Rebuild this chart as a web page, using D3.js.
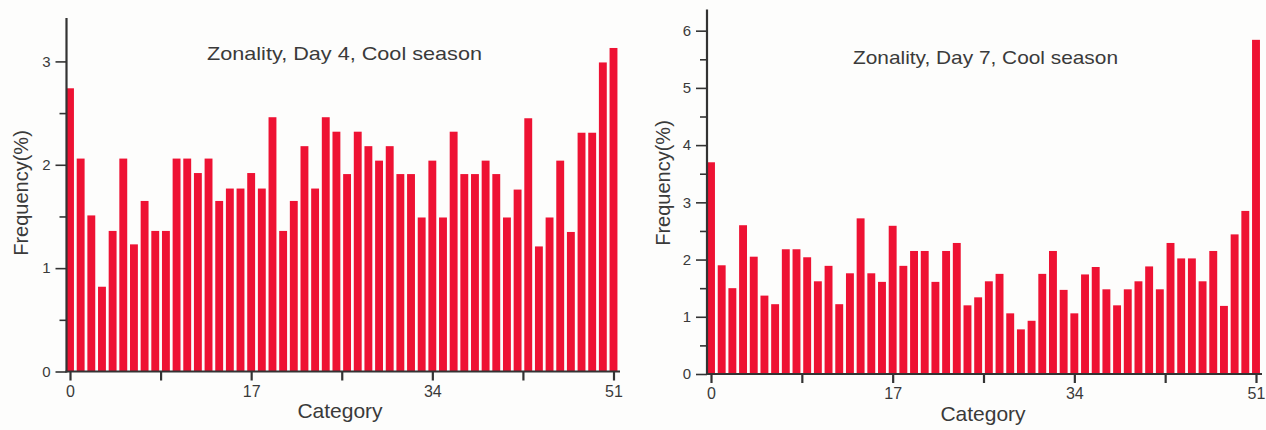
<!DOCTYPE html>
<html>
<head>
<meta charset="utf-8">
<script src="https://cdn.jsdelivr.net/npm/d3@7"></script>
<style>
  html, body { margin: 0; padding: 0; background: #fdfdfc; }
  svg { display: block; }
  text { font-family: "Liberation Sans", Arial, Helvetica, sans-serif; fill: #3a3a3a; }
</style>
</head>
<body>
<svg id="chart" width="1266" height="430"></svg>
<script>
// Category indices 0..51
const categories = d3.range(0, 52);

// Frequency (%) per category, Day 4
const day4Values = [
  2.74, 2.06, 1.51, 0.82, 1.36, 2.06, 1.23, 1.65, 1.36, 1.36,
  2.06, 2.06, 1.92, 2.06, 1.65, 1.77, 1.77, 1.92, 1.77, 2.46,
  1.36, 1.65, 2.18, 1.77, 2.46, 2.32, 1.91, 2.32, 2.18, 2.04,
  2.18, 1.91, 1.91, 1.49, 2.04, 1.49, 2.32, 1.91, 1.91, 2.04,
  1.91, 1.49, 1.76, 2.45, 1.21, 1.49, 2.04, 1.35, 2.31, 2.31,
  2.99, 3.13
];

// Frequency (%) per category, Day 7
const day7Values = [
  3.70, 1.90, 1.50, 2.60, 2.05, 1.37, 1.22, 2.18, 2.18, 2.04,
  1.62, 1.89, 1.22, 1.76, 2.72, 1.76, 1.61, 2.59, 1.89, 2.15,
  2.15, 1.61, 2.15, 2.29, 1.20, 1.34, 1.62, 1.75, 1.06, 0.78,
  0.93, 1.75, 2.15, 1.47, 1.06, 1.74, 1.87, 1.48, 1.20, 1.48,
  1.62, 1.88, 1.48, 2.29, 2.02, 2.02, 1.62, 2.15, 1.19, 2.44,
  2.85, 5.84
];

const xTickValues = [0, 8.5, 17, 25.5, 34, 42.5, 51];
const xTickLabels = ["0", "", "17", "", "34", "", "51"];
const day4YTicks = [0, 1, 2, 3];
const day7YTicks = [0, 1, 2, 3, 4, 5, 6];

const panels = [
  {
    title: "Zonality, Day 4, Cool season",
    values: day4Values, yMax: 3.42, yTicks: day4YTicks,
    left: 66.5, x0: 70, x51: 613.5, xEnd: 620, top: 18, base: 371.5,
    titleX: 207, titleY: 60, titleW: 275,
    yLabelX: 28, yLabelY: 193, catX: 340, catY: 418
  },
  {
    title: "Zonality, Day 7, Cool season",
    values: day7Values, yMax: 6.37, yTicks: day7YTicks,
    left: 707, x0: 711, x51: 1256, xEnd: 1262, top: 9.5, base: 374,
    titleX: 853, titleY: 64, titleW: 265,
    yLabelX: 670, yLabelY: 183, catX: 983, catY: 421
  }
];

const svg = d3.select("#chart");
const barColor = "#ee1233";
const axisColor = "#333";

panels.forEach(p => {
  const g = svg.append("g");
  const step = (p.x51 - p.x0) / 51;

  const x = d3.scaleLinear().domain([0, 51]).range([p.x0, p.x51]);
  const xBand = d3.scaleBand()
    .domain(categories)
    .range([p.x0 - step / 2, p.x51 + step / 2])
    .paddingInner(0.26)
    .paddingOuter(0.13);
  const y = d3.scaleLinear().domain([0, p.yMax]).range([p.base, p.top]);

  // bars
  g.append("g").selectAll("rect")
    .data(p.values)
    .join("rect")
    .attr("x", (d, i) => xBand(categories[i]))
    .attr("width", xBand.bandwidth())
    .attr("y", d => y(d))
    .attr("height", d => y(0) - y(d))
    .attr("fill", barColor);

  // y axis: major ticks with labels, minor half-unit ticks
  const minor = d3.range(0.5, p.yMax, 1);
  const yAxis = d3.axisLeft(y).tickValues(p.yTicks).tickSize(11).tickPadding(5)
    .tickFormat(d3.format("d"));
  const yg = g.append("g").attr("transform", `translate(${p.left},0)`).call(yAxis);
  yg.select(".domain").remove();
  const yMinor = d3.axisLeft(y).tickValues(minor).tickSize(7).tickFormat("");
  const ym = g.append("g").attr("transform", `translate(${p.left},0)`).call(yMinor);
  ym.select(".domain").remove();
  [yg, ym].forEach(a => {
    a.selectAll("line").attr("stroke", axisColor).attr("stroke-width", 1.6);
  });
  yg.selectAll("text")
    .style("font-size", "15px")
    .style("font-family", '"Liberation Sans", Arial, sans-serif')
    .attr("fill", "#444");

  g.append("line")
    .attr("x1", p.left).attr("x2", p.left)
    .attr("y1", p.top).attr("y2", p.base + 1)
    .attr("stroke", axisColor).attr("stroke-width", 2.2);

  // x axis
  const xAxis = d3.axisBottom(x).tickValues(xTickValues).tickSize(9).tickPadding(5)
    .tickFormat((d, i) => xTickLabels[i]);
  const xg = g.append("g").attr("transform", `translate(0,${p.base})`).call(xAxis);
  xg.select(".domain").remove();
  xg.selectAll("line").attr("stroke", axisColor).attr("stroke-width", 2.2);
  xg.selectAll("text")
    .style("font-size", "16px")
    .style("font-family", '"Liberation Sans", Arial, sans-serif')
    .attr("fill", "#444");

  g.append("line")
    .attr("x1", p.left - 1).attr("x2", p.xEnd)
    .attr("y1", p.base).attr("y2", p.base)
    .attr("stroke", axisColor).attr("stroke-width", 2.2);

  // title
  g.append("text")
    .attr("x", p.titleX).attr("y", p.titleY)
    .attr("textLength", p.titleW)
    .attr("lengthAdjust", "spacingAndGlyphs")
    .style("font-size", "19px")
    .text(p.title);

  // axis titles
  g.append("text")
    .attr("transform", `translate(${p.yLabelX},${p.yLabelY}) rotate(-90)`)
    .attr("text-anchor", "middle")
    .style("font-size", "20px")
    .text("Frequency(%)");

  g.append("text")
    .attr("x", p.catX).attr("y", p.catY)
    .attr("text-anchor", "middle")
    .style("font-size", "21px")
    .text("Category");
});
</script>
</body>
</html>
